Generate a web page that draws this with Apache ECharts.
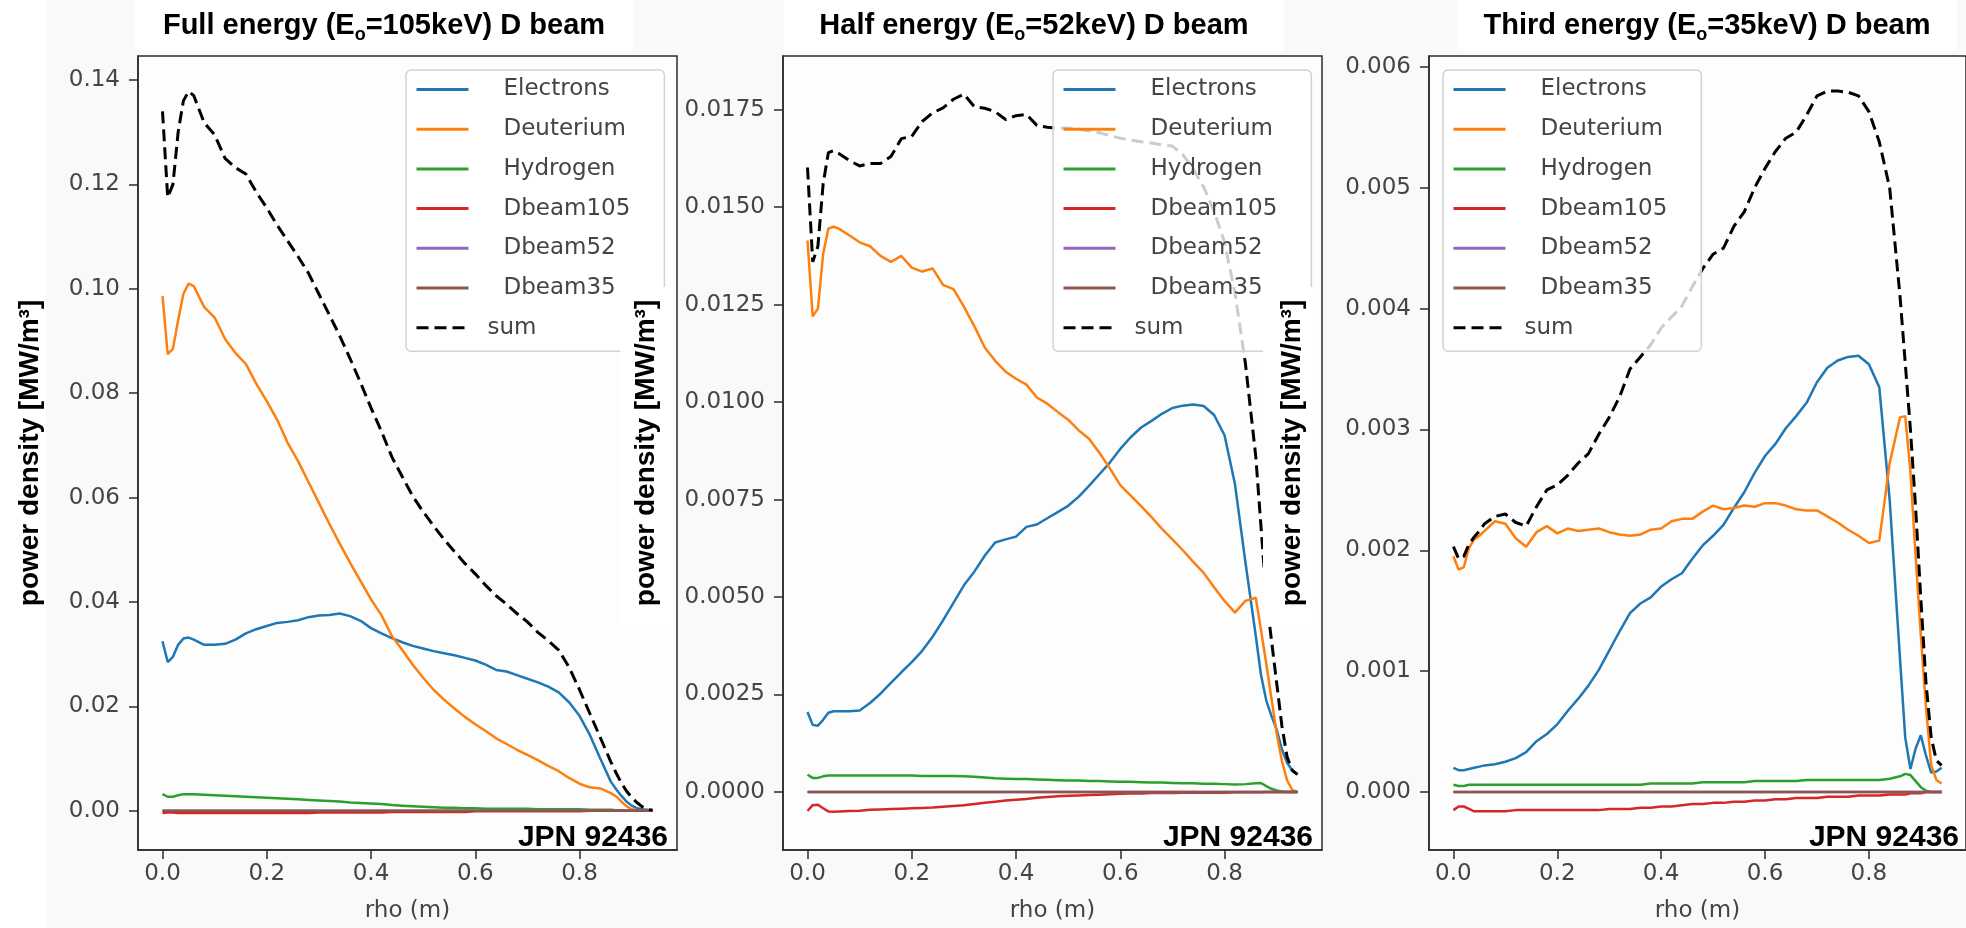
<!DOCTYPE html>
<html lang="en">
<head>
  <meta charset="UTF-8">
  <title>power density profiles</title>
  <style>
    html, body { margin: 0; padding: 0; background: #f9f9f9; }
  </style>
</head>
<body>
  <div id="main" style="width:1966px;height:928px"></div>
  <script src="https://cdn.jsdelivr.net/npm/echarts@6/dist/echarts.min.js"></script>
  <script>
    // rho grid (m), shared by all three panels
    var rho = [0, 0.01, 0.02, 0.03, 0.04, 0.05, 0.06, 0.08, 0.10, 0.12,
      0.14, 0.16, 0.18, 0.20, 0.22, 0.24, 0.26, 0.28, 0.30, 0.32,
      0.34, 0.36, 0.38, 0.40, 0.42, 0.44, 0.46, 0.48, 0.50, 0.52,
      0.54, 0.56, 0.58, 0.60, 0.62, 0.64, 0.66, 0.68, 0.70, 0.72,
      0.74, 0.76, 0.78, 0.80, 0.82, 0.84, 0.86, 0.87, 0.88, 0.89,
      0.90, 0.91, 0.92, 0.93, 0.94]

    var seriesNames = ['Electrons', 'Deuterium', 'Hydrogen', 'Dbeam105', 'Dbeam52', 'Dbeam35', 'sum']

    var xTicks = [0, 0.2, 0.4, 0.6, 0.8]
    var xTickLabels = ['0.0', '0.2', '0.4', '0.6', '0.8']
    var yTicks1 = [0, 0.02, 0.04, 0.06, 0.08, 0.10, 0.12, 0.14]
    var yTickLabels1 = ['0.00', '0.02', '0.04', '0.06', '0.08', '0.10', '0.12', '0.14']
    var yTicks2 = [0, 0.0025, 0.005, 0.0075, 0.01, 0.0125, 0.015, 0.0175]
    var yTickLabels2 = ['0.0000', '0.0025', '0.0050', '0.0075', '0.0100', '0.0125', '0.0150', '0.0175']
    var yTicks3 = [0, 0.001, 0.002, 0.003, 0.004, 0.005, 0.006]
    var yTickLabels3 = ['0.000', '0.001', '0.002', '0.003', '0.004', '0.005', '0.006']

    // ---- Full energy (105 keV) ----
    var elec1 = [0.0325, 0.0285, 0.0295, 0.0318, 0.0330, 0.0332, 0.0328, 0.0318, 0.0318, 0.0320,
      0.0328, 0.0340, 0.0348, 0.0354, 0.0360, 0.0362, 0.0365, 0.0371, 0.0374, 0.0375,
      0.0378, 0.0373, 0.0364, 0.0350, 0.0340, 0.0331, 0.0323, 0.0316, 0.0311, 0.0306,
      0.0302, 0.0298, 0.0293, 0.0288, 0.0280, 0.0270, 0.0267, 0.0260, 0.0253, 0.0246,
      0.0238, 0.0227, 0.0208, 0.0182, 0.0145, 0.0100, 0.0056, 0.0042, 0.0029, 0.0018,
      0.0010, 0.0005, 0.0003, 0.0002, 0.0001]
    var deut1 = [0.0986, 0.0875, 0.0885, 0.0940, 0.0990, 0.1010, 0.1005, 0.0965, 0.0945, 0.0904,
      0.0877, 0.0856, 0.0818, 0.0785, 0.0749, 0.0705, 0.0670, 0.0630, 0.0590, 0.0550,
      0.0512, 0.0475, 0.0440, 0.0405, 0.0375, 0.0335, 0.0308, 0.0280, 0.0255, 0.0232,
      0.0213, 0.0196, 0.0180, 0.0166, 0.0153, 0.0139, 0.0128, 0.0117, 0.0107, 0.0097,
      0.0086, 0.0076, 0.0063, 0.0052, 0.0045, 0.0043, 0.0034, 0.0028, 0.0018, 0.0009,
      0.0003, 0.0001, 0, 0, 0]
    var hyd1 = [0.0032, 0.0027, 0.0027, 0.0030, 0.0032, 0.0032, 0.0032, 0.0031, 0.0030, 0.0029,
      0.0028, 0.0027, 0.0026, 0.0025, 0.0024, 0.0023, 0.0022, 0.0021, 0.0020, 0.0019,
      0.0018, 0.0016, 0.0015, 0.0014, 0.0013, 0.0011, 0.0010, 0.0009, 0.0008, 0.0007,
      0.0006, 0.0006, 0.0005, 0.0005, 0.0004, 0.0004, 0.0004, 0.0004, 0.0004, 0.0003,
      0.0003, 0.0003, 0.0003, 0.0003, 0.0002, 0.0002, 0.0002, 0.0001, 0.0001, 0,
      0, 0, 0, 0, 0]
    var beam105_1 = [-0.0004, -0.0003, -0.0003, -0.0004, -0.0004, -0.0004, -0.0004, -0.0004, -0.0004, -0.0004,
      -0.0004, -0.0004, -0.0004, -0.0004, -0.0004, -0.0004, -0.0004, -0.0004, -0.0003, -0.0003,
      -0.0003, -0.0003, -0.0003, -0.0003, -0.0003, -0.0002, -0.0002, -0.0002, -0.0002, -0.0002,
      -0.0002, -0.0002, -0.0002, -0.0001, -0.0001, -0.0001, -0.0001, -0.0001, -0.0001, -0.0001,
      -0.0001, -0.0001, -0.0001, -0.0001, 0, 0, 0, 0, 0, 0,
      0, 0, 0, 0, 0]
    var sum1 = [0.1340, 0.1175, 0.1200, 0.1300, 0.1360, 0.1378, 0.1370, 0.1318, 0.1295, 0.1250,
      0.1232, 0.1220, 0.1185, 0.1155, 0.1122, 0.1092, 0.1062, 0.1030, 0.0990, 0.0950,
      0.0910, 0.0866, 0.0820, 0.0772, 0.0727, 0.0678, 0.0640, 0.0603, 0.0573, 0.0546,
      0.0520, 0.0497, 0.0474, 0.0454, 0.0432, 0.0412, 0.0396, 0.0378, 0.0362, 0.0342,
      0.0326, 0.0308, 0.0275, 0.0232, 0.0186, 0.0140, 0.0094, 0.0073, 0.0054, 0.0038,
      0.0026, 0.0016, 0.0008, 0.0003, 0.0001]

    // ---- Half energy (52 keV) ----
    var elec2 = [0.00205, 0.00172, 0.00170, 0.00185, 0.00203, 0.00207, 0.00207, 0.00207, 0.00209, 0.00228,
      0.00252, 0.00280, 0.00307, 0.00333, 0.00362, 0.00398, 0.00440, 0.00485, 0.00530, 0.00565,
      0.00606, 0.00640, 0.00648, 0.00655, 0.00680, 0.00686, 0.00702, 0.00718, 0.00734, 0.00757,
      0.00785, 0.00815, 0.00845, 0.00880, 0.00910, 0.00935, 0.00952, 0.00970, 0.00985, 0.00991,
      0.00994, 0.00990, 0.00967, 0.00915, 0.00790, 0.00590, 0.00400, 0.00300, 0.00235, 0.00195,
      0.00160, 0.00110, 0.00075, 0.00055, 0.00045]
    var deut2 = [0.01415, 0.01220, 0.01240, 0.01380, 0.01445, 0.01450, 0.01445, 0.01428, 0.01410, 0.01400,
      0.01375, 0.01360, 0.01375, 0.01345, 0.01335, 0.01343, 0.01301, 0.01290, 0.01245, 0.01195,
      0.01140, 0.01106, 0.01078, 0.01060, 0.01045, 0.01012, 0.00996, 0.00975, 0.00955, 0.00928,
      0.00906, 0.00870, 0.00830, 0.00787, 0.00760, 0.00733, 0.00705, 0.00675, 0.00648, 0.00620,
      0.00590, 0.00562, 0.00525, 0.00490, 0.00460, 0.00490, 0.00498, 0.00415, 0.00330, 0.00240,
      0.00150, 0.00080, 0.00030, 0.00005, 0]
    var hyd2 = [0.00044, 0.00036, 0.00036, 0.00040, 0.00042, 0.00042, 0.00042, 0.00042, 0.00042, 0.00042,
      0.00042, 0.00042, 0.00042, 0.00042, 0.00041, 0.00041, 0.00041, 0.00041, 0.00040, 0.00039,
      0.00037, 0.00035, 0.00034, 0.00033, 0.00033, 0.00032, 0.00031, 0.00030, 0.00029, 0.00029,
      0.00028, 0.00028, 0.00027, 0.00026, 0.00026, 0.00025, 0.00024, 0.00024, 0.00023, 0.00022,
      0.00022, 0.00021, 0.00021, 0.00020, 0.00019, 0.00020, 0.00022, 0.00023, 0.00015, 0.00008,
      0.00004, 0.00001, 0, 0, 0]
    var beam105_2 = [-0.00049, -0.00034, -0.00033, -0.00042, -0.00050, -0.00051, -0.00050, -0.00049, -0.00048, -0.00046,
      -0.00045, -0.00044, -0.00043, -0.00042, -0.00041, -0.00040, -0.00038, -0.00036, -0.00034, -0.00031,
      -0.00028, -0.00025, -0.00022, -0.00020, -0.00018, -0.00015, -0.00013, -0.00011, -0.00010, -0.00009,
      -0.00008, -0.00007, -0.00006, -0.00005, -0.00004, -0.00004, -0.00003, -0.00003, -0.00003, -0.00002,
      -0.00002, -0.00002, -0.00002, -0.00002, -0.00001, -0.00001, -0.00001, -0.00001, 0, 0,
      0, 0, 0, 0, 0]
    var sum2 = [0.01602, 0.01360, 0.01400, 0.01560, 0.01640, 0.01645, 0.01638, 0.01620, 0.01606, 0.01612,
      0.01612, 0.01630, 0.01676, 0.01682, 0.01720, 0.01742, 0.01755, 0.01777, 0.01790, 0.01758,
      0.01754, 0.01745, 0.01725, 0.01735, 0.01738, 0.01710, 0.01705, 0.01703, 0.01703, 0.01700,
      0.01696, 0.01691, 0.01684, 0.01677, 0.01672, 0.01668, 0.01665, 0.01660, 0.01657, 0.01635,
      0.01598, 0.01552, 0.01490, 0.01410, 0.01280, 0.01100, 0.00860, 0.00680, 0.00500, 0.00390,
      0.00280, 0.00170, 0.00090, 0.00055, 0.00045]

    // ---- Third energy (35 keV) ----
    var elec3 = [0.00020, 0.00018, 0.00018, 0.00019, 0.00020, 0.00021, 0.00022, 0.00023, 0.00025, 0.00028,
      0.00033, 0.00042, 0.00048, 0.00056, 0.00067, 0.00077, 0.00088, 0.00101, 0.00117, 0.00133,
      0.00148, 0.00156, 0.00161, 0.00170, 0.00176, 0.00181, 0.00193, 0.00204, 0.00212, 0.00221,
      0.00235, 0.00248, 0.00264, 0.00278, 0.00288, 0.00301, 0.00311, 0.00322, 0.00339, 0.00351,
      0.00357, 0.00360, 0.00361, 0.00354, 0.00335, 0.00242, 0.00110, 0.00045, 0.00019, 0.00036,
      0.00047, 0.00030, 0.00016, 0.00017, 0.00020]
    var deut3 = [0.00195, 0.00184, 0.00186, 0.00202, 0.00209, 0.00212, 0.00216, 0.00224, 0.00222, 0.00210,
      0.00203, 0.00215, 0.00220, 0.00214, 0.00218, 0.00216, 0.00217, 0.00218, 0.00215, 0.00213,
      0.00212, 0.00213, 0.00217, 0.00218, 0.00224, 0.00226, 0.00226, 0.00232, 0.00237, 0.00234,
      0.00235, 0.00237, 0.00236, 0.00239, 0.00239, 0.00237, 0.00234, 0.00233, 0.00233, 0.00228,
      0.00223, 0.00217, 0.00212, 0.00206, 0.00208, 0.00272, 0.00310, 0.00311, 0.00265, 0.00195,
      0.00130, 0.00070, 0.00022, 0.00010, 0.00007]
    var hyd3 = [0.00006, 0.00005, 0.00005, 0.00006, 0.00006, 0.00006, 0.00006, 0.00006, 0.00006, 0.00006,
      0.00006, 0.00006, 0.00006, 0.00006, 0.00006, 0.00006, 0.00006, 0.00006, 0.00006, 0.00006,
      0.00006, 0.00006, 0.00007, 0.00007, 0.00007, 0.00007, 0.00007, 0.00008, 0.00008, 0.00008,
      0.00008, 0.00008, 0.00009, 0.00009, 0.00009, 0.00009, 0.00009, 0.00010, 0.00010, 0.00010,
      0.00010, 0.00010, 0.00010, 0.00010, 0.00010, 0.00011, 0.00013, 0.00015, 0.00014, 0.00009,
      0.00004, 0.00001, 0, 0, 0]
    var beam105_3 = [-0.00015, -0.00012, -0.00012, -0.00014, -0.00016, -0.00016, -0.00016, -0.00016, -0.00016, -0.00015,
      -0.00015, -0.00015, -0.00015, -0.00015, -0.00015, -0.00015, -0.00015, -0.00015, -0.00014, -0.00014,
      -0.00014, -0.00013, -0.00013, -0.00012, -0.00012, -0.00011, -0.00010, -0.00010, -0.00009, -0.00009,
      -0.00008, -0.00008, -0.00007, -0.00007, -0.00006, -0.00006, -0.00005, -0.00005, -0.00005, -0.00004,
      -0.00004, -0.00004, -0.00003, -0.00003, -0.00003, -0.00002, -0.00002, -0.00002, -0.00001, -0.00001,
      -0.00001, 0, 0, 0, 0]
    var sum3 = [0.00203, 0.00193, 0.00195, 0.00205, 0.00211, 0.00216, 0.00222, 0.00228, 0.00230, 0.00223,
      0.00220, 0.00236, 0.00250, 0.00254, 0.00262, 0.00272, 0.00280, 0.00296, 0.00310, 0.00327,
      0.00350, 0.00360, 0.00370, 0.00384, 0.00393, 0.00402, 0.00418, 0.00433, 0.00445, 0.00450,
      0.00468, 0.00480, 0.00500, 0.00516, 0.00530, 0.00541, 0.00546, 0.00560, 0.00576, 0.00580,
      0.00580, 0.00579, 0.00576, 0.00563, 0.00538, 0.00500, 0.00410, 0.00355, 0.00300, 0.00235,
      0.00160, 0.00090, 0.00045, 0.00026, 0.00022]

    // Dbeam52 and Dbeam35 stay at zero in all three panels
    var beamZero = [0, 0, 0, 0, 0, 0, 0, 0, 0, 0,
      0, 0, 0, 0, 0, 0, 0, 0, 0, 0,
      0, 0, 0, 0, 0, 0, 0, 0, 0, 0,
      0, 0, 0, 0, 0, 0, 0, 0, 0, 0,
      0, 0, 0, 0, 0, 0, 0, 0, 0, 0,
      0, 0, 0, 0, 0]

    var colors = ['#1f77b4', '#ff7f0e', '#2ca02c', '#d62728', '#9467bd', '#8c564b', '#000000']
    var tickFont = 'DejaVu Sans'
    var boldFont = '"Liberation Sans", Arial, sans-serif'

    var panels = [
      { left: 138, width: 539, ymin: -0.0075, ymax: 0.1446, yTicks: yTicks1, yLabels: yTickLabels1,
        lines: [elec1, deut1, hyd1, beam105_1, beamZero, beamZero, sum1],
        title: ['Full energy (E', 'o', '=105keV) D beam'], titleX: 384, legendLeft: 406 },
      { left: 783, width: 539, ymin: -0.00149, ymax: 0.01888, yTicks: yTicks2, yLabels: yTickLabels2,
        lines: [elec2, deut2, hyd2, beam105_2, beamZero, beamZero, sum2],
        title: ['Half energy (E', 'o', '=52keV) D beam'], titleX: 1034, legendLeft: 1053 },
      { left: 1429, width: 539, ymin: -0.00048, ymax: 0.00609, yTicks: yTicks3, yLabels: yTickLabels3,
        lines: [elec3, deut3, hyd3, beam105_3, beamZero, beamZero, sum3],
        title: ['Third energy (E', 'o', '=35keV) D beam'], titleX: 1707, legendLeft: 1443 }
    ]

    var grids = [], xAxes = [], yAxes = [], series = [], legends = [], graphics = []

    // plain white patches behind titles and y-labels
    graphics.push({ type: 'rect', shape: { x: 0, y: 0, width: 46, height: 928 }, style: { fill: '#ffffff' }, z: 0, silent: true })

    panels.forEach(function (p, k) {
      grids.push({
        left: p.left, top: 56, width: p.width, height: 800,
        show: true, backgroundColor: '#fdfdfd', borderColor: '#2b2b2b', borderWidth: 1.5
      })
      xAxes.push({
        gridIndex: k, type: 'value', min: -0.047, max: 0.987,
        axisLine: { show: true, onZero: false, lineStyle: { color: '#2b2b2b', width: 1.5 } },
        axisTick: { show: true, length: 9, customValues: xTicks, lineStyle: { color: '#2b2b2b', width: 1.5 } },
        axisLabel: {
          customValues: xTicks, margin: 13, fontFamily: tickFont, fontSize: 23, color: '#444',
          formatter: function (v) { var i = xTicks.indexOf(v); return i >= 0 ? xTickLabels[i] : v.toFixed(1) }
        },
        splitLine: { show: false },
        name: 'rho (m)', nameLocation: 'middle', nameGap: 50,
        nameTextStyle: { fontFamily: tickFont, fontSize: 23, color: '#444' }
      })
      yAxes.push({
        gridIndex: k, type: 'value', min: p.ymin, max: p.ymax,
        axisLine: { show: true, onZero: false, lineStyle: { color: '#2b2b2b', width: 1.5 } },
        axisTick: { show: true, length: 9, customValues: p.yTicks, lineStyle: { color: '#2b2b2b', width: 1.5 } },
        axisLabel: {
          customValues: p.yTicks, margin: 18, fontFamily: tickFont, fontSize: 23, color: '#444',
          formatter: function (v) { var i = p.yTicks.indexOf(v); return i >= 0 ? p.yLabels[i] : String(v) }
        },
        splitLine: { show: false }
      })

      seriesNames.forEach(function (name, j) {
        var vals = p.lines[j]
        series.push({
          name: name, type: 'line', xAxisIndex: k, yAxisIndex: k,
          data: rho.map(function (r, i) { return [r, vals[i]] }),
          symbol: 'none', silent: true,
          lineStyle: { color: colors[j], width: name === 'sum' ? 3 : 2.5, type: name === 'sum' ? [12, 6] : 'solid' },
          itemStyle: { color: colors[j] }
        })
      })

      legends.push({
        orient: 'vertical', left: p.legendLeft, top: 70,
        data: seriesNames.slice(),
        itemWidth: 52, itemHeight: 20, itemGap: 16.7,
        padding: [8, 34, 12, 9],
        backgroundColor: 'rgba(255,255,255,0.8)',
        borderColor: '#d2d2d2', borderWidth: 1.5, borderRadius: 5,
        selectedMode: false,
        // hide the marker symbol, keep only the line sample
        itemStyle: { opacity: 0 },
        lineStyle: { width: 3 },
        formatter: function (n) { return n === 'sum' ? '{s|' + n + '}' : '{n|' + n + '}' },
        textStyle: {
          fontFamily: tickFont, fontSize: 23, color: '#444',
          rich: {
            n: { fontFamily: tickFont, fontSize: 23, color: '#444', padding: [0, 0, 0, 30] },
            s: { fontFamily: tickFont, fontSize: 23, color: '#444', padding: [0, 0, 0, 14] }
          }
        }
      })

      // title with subscript o
      graphics.push({
        type: 'rect', shape: { x: p.titleX - 250, y: 0, width: 500, height: 50 },
        style: { fill: '#ffffff' }, z: 0, silent: true
      })
      graphics.push({
        type: 'text', x: p.titleX, y: 26, z: 100, silent: true,
        style: {
          text: '{b|' + p.title[0] + '}{s|' + p.title[1] + '}{b|' + p.title[2] + '}',
          align: 'center', verticalAlign: 'middle',
          rich: {
            b: { fontFamily: boldFont, fontWeight: 'bold', fontSize: 29, fill: '#000', lineHeight: 36 },
            s: { fontFamily: boldFont, fontWeight: 'bold', fontSize: 18, fill: '#000', lineHeight: 20, verticalAlign: 'bottom' }
          }
        }
      })

      // shot number in lower right corner
      graphics.push({
        type: 'text', x: p.left + p.width - 9, y: 838, z: 100, silent: true,
        style: {
          text: 'JPN 92436', align: 'right', verticalAlign: 'middle',
          fontFamily: boldFont, fontWeight: 'bold', fontSize: 30, fill: '#000'
        }
      })
    })

    // y-axis labels, each sitting on a white box that covers whatever is below it
    var yLabelX = [30, 646, 1292]
    var yLabelBox = [[0, 46], [620, 672], [1263, 1318]]
    yLabelX.forEach(function (cx, k) {
      graphics.push({
        type: 'rect', z: 90, silent: true,
        shape: { x: yLabelBox[k][0], y: 287, width: yLabelBox[k][1] - yLabelBox[k][0], height: 338 },
        style: { fill: '#ffffff' }
      })
      graphics.push({
        type: 'text', x: cx, y: 453, rotation: Math.PI / 2, z: 100, silent: true,
        style: {
          text: 'power density [MW/m³]', align: 'center', verticalAlign: 'middle',
          fontFamily: boldFont, fontWeight: 'bold', fontSize: 28, fill: '#000'
        }
      })
    })

    var myChart = echarts.init(document.getElementById('main'))
    myChart.setOption({
      animation: false,
      backgroundColor: '#f9f9f9',
      grid: grids,
      xAxis: xAxes,
      yAxis: yAxes,
      legend: legends,
      series: series,
      graphic: graphics
    })
  </script>
</body>
</html>
